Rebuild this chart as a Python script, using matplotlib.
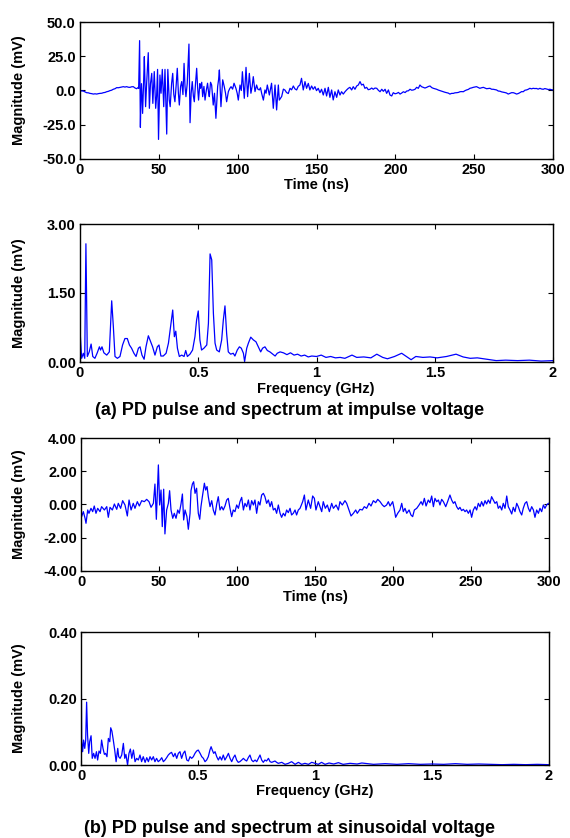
import matplotlib
matplotlib.use("Agg")
import matplotlib.pyplot as plt
import numpy as np

plt.rcParams['font.family'] = ['Liberation Sans', 'DejaVu Sans']
plt.rcParams['font.weight'] = 'bold'
plt.rcParams['axes.unicode_minus'] = False

# ---------------- (a) impulse voltage: time-domain pulse ----------------
t_a = [0.0, 1.0, 2.1, 3.2, 4.2, 5.3, 6.3, 7.4, 8.5, 9.5, 10.6, 11.6, 12.7, 13.8, 14.8, 15.9,
       16.9, 18.0, 19.0, 20.0, 21.1, 22.2, 23.3, 24.3, 25.4, 26.4, 27.5, 28.5, 29.6, 30.6,
       31.7, 32.7, 33.8, 34.8, 35.9, 37.0,
       37.2, 37.8, 38.3, 38.6, 39.0, 39.7, 40.4, 40.8, 41.6, 42.3, 43.3, 44.0, 44.7, 45.5, 46.2,
       47.1, 48.0, 48.6, 49.2, 49.8, 50.7, 51.4, 52.2, 53.1, 53.9, 55.0, 55.7, 56.6, 57.2,
       58.1, 58.8, 59.5, 60.2, 61.0, 61.7, 62.4, 63.0, 63.8, 64.5, 65.3, 66.0, 66.6, 67.2,
       68.0, 68.6, 69.1, 69.8, 70.5, 71.2, 71.9, 72.5, 73.2, 74.0, 74.6, 75.2, 76.0, 76.5,
       77.2, 77.8, 78.6, 79.3, 80.1, 80.9, 81.5, 82.0, 82.8, 83.5, 84.5, 85.3, 86.2, 87.3,
       87.9, 88.4, 89.4, 90.5, 91.5, 92.3, 93.0, 94.1, 95.0, 95.8, 96.8, 97.7, 98.9, 99.7,
       100.4, 101.5, 102.3, 103.0, 104.2, 105.3, 106.3, 107.4, 108.4, 109.2, 109.9, 111.0,
       112.0, 112.8, 113.7, 114.5, 115.2, 116.3, 117.3, 118.0, 118.8, 120.1, 121.5, 122.6,
       123.7, 124.7, 125.8, 126.4, 127.9, 129.0, 130.0, 131.0, 132.1, 133.2, 134.2, 135.3,
       136.3, 137.4, 138.4, 139.5, 140.5, 141.6, 142.7, 143.7, 144.8, 145.8, 146.9, 147.9,
       149.0, 150.0, 151.1, 152.2, 153.2, 154.3, 155.4, 156.4, 157.5, 158.5, 159.6, 160.6,
       161.7, 162.8, 163.8, 164.9, 165.9, 167.0, 168.0, 169.1, 170.2, 171.2, 172.3, 173.3,
       174.4, 175.5, 176.5, 177.6, 178.6, 179.7, 180.7, 181.8, 182.8, 183.9, 185.0, 186.0,
       187.1, 188.2, 189.2, 190.3, 191.4, 192.4, 193.5, 194.5, 195.6, 196.6, 197.7, 198.7,
       199.8, 200.9, 202.0, 203.0, 204.1, 205.1, 206.2, 207.2, 208.3, 209.3, 210.4, 211.4,
       212.5, 213.5, 214.6, 215.6, 216.6, 217.7, 218.8, 219.9, 220.9, 222.0, 223.1, 224.1,
       225.2, 226.2, 227.3, 228.3, 229.4, 230.4, 231.5, 232.5, 233.6, 234.6, 235.7, 236.8,
       237.8, 238.9, 240.0, 241.0, 242.1, 243.1, 244.2, 245.2, 246.3, 247.3, 248.4, 249.4,
       250.5, 251.5, 252.6, 253.6, 254.7, 255.8, 256.8, 257.9, 259.0, 260.0, 261.1, 262.1,
       263.2, 264.2, 265.3, 266.3, 267.4, 268.4, 269.5, 270.5, 271.6, 272.7, 273.7, 274.8,
       275.8, 276.9, 278.0, 279.0, 280.1, 281.1, 282.2, 283.2, 284.3, 285.3, 286.4, 287.4,
       288.5, 289.5, 290.6, 291.7, 292.7, 293.8, 294.8, 295.9, 297.0, 298.0, 299.0, 300.0]
v_a = [-0.1, -0.3, -0.4, -1.0, -1.6, -1.7, -2.1, -2.3, -2.6, -2.4, -2.6, -2.3, -2.1, -2.0, -1.6, -1.4,
       -0.9, -0.6, -0.1, 0.2, 0.9, 1.3, 2.1, 2.0, 2.3, 2.6, 2.8, 2.5, 2.8, 2.4,
       2.3, 2.7, 2.8, 1.9, 1.3, 2.3,
       1.5, 36.4, -26.9, -8.0, 5.0, -16.7, 8.0, 24.7, -11.8, 6.0, 27.6, -13.0, 5.0, 12.5, -9.4,
       13.8, -13.0, -4.0, 15.4, -35.7, 11.3, -2.0, 15.4, -11.8, 15.4, -31.8, 15.4, -7.0, -11.8,
       5.2, 12.5, -3.0, -8.2, 4.0, 16.2, -2.0, -10.6, 3.0, 6.5, -3.0, 19.8, 3.0, -4.5,
       5.0, 20.0, 33.9, -23.5, -2.0, 6.5, -4.0, -8.2, 4.0, 16.2, 2.0, -7.0, 5.0, 1.6,
       6.0, -4.5, 3.0, -7.0, 0.0, 5.3, -1.0, -4.5, 6.0, 4.0, -10.6, -2.0, -20.3, 2.8,
       8.0, 15.0, -11.8, 7.8, 2.8, -2.0, -8.2, -0.8, 1.5, 2.8, 1.0, 5.3, 1.6, -2.0,
       -7.0, 4.0, 0.0, 13.7, -5.7, 16.9, -4.5, 12.5, -2.0, 3.0, 10.1, -0.8,
       4.0, 1.0, 0.4, 2.0, -2.0, -7.0, 0.4, -2.0, 4.0, -3.3, 5.3, -13.0,
       4.0, -14.2, 4.0, -7.0, -4.4, 1.0, 0.3, -1.5, -2.2, 1.6, 0.5, 3.3,
       1.2, 0.4, 3.0, 4.0, 8.9, 0.4, 6.5, 1.6, 5.2, 0.4, 3.3, 0.9,
       2.8, -0.1, 1.6, -1.6, 0.9, -3.3, 1.6, -4.0, 2.3, -5.0, 0.4, -6.9,
       -0.9, -5.0, 0.4, -3.3, -0.9, -2.6, -1.0, 0.4, 1.6, 2.3, 0.4, 2.8,
       0.9, 3.3, 4.0, 6.5, 4.0, 4.6, 1.6, 2.3, 0.6, 0.9, 1.8, 0.9,
       1.8, 1.6, 0.2, -0.9, 0.9, -0.6, 0.9, -2.1, 0.4, -3.3, -4.0, -1.6,
       -2.4, -2.1, -1.4, -2.6, -1.8, -0.9, -1.5, -0.4, -0.2, 0.9, 0.2, 0.4,
       0.9, 2.3, 1.6, 4.0, 2.8, 2.3, 1.8, 2.3, 2.9, 3.3, 2.1, 1.6,
       1.2, 0.9, 0.3, -0.1, -0.6, -0.9, -1.3, -1.6, -1.9, -2.6, -2.1, -2.1,
       -1.7, -1.6, -1.4, -0.9, -0.8, -0.9, -0.1, 0.4, 0.8, 1.6, 1.9, 2.3,
       2.6, 2.8, 2.2, 1.6, 2.0, 2.3, 1.8, 1.3, 1.5, 1.6, 0.9, 0.9,
       0.6, 0.4, -0.4, -0.5, -1.0, -1.2, -1.5, -1.8, -2.6, -2.1, -1.6, -1.6,
       -2.0, -2.6, -2.2, -1.6, -0.8, -0.9, 0.2, 0.4, 0.9, 1.6, 1.2, 1.6,
       1.4, 1.5, 1.0, 1.6, 1.1, 0.9, 1.4, 1.1, 0.7, 0.9, 0.6, 0.4]

# ---------------- (a) impulse voltage: spectrum ----------------
f_a = [0.000, 0.007, 0.014, 0.020, 0.025, 0.031, 0.039, 0.047, 0.054, 0.063, 0.073, 0.082,
       0.087, 0.093, 0.101, 0.113, 0.124, 0.134, 0.141, 0.148, 0.158, 0.169, 0.180, 0.190,
       0.200, 0.209, 0.218, 0.228, 0.237, 0.247, 0.254, 0.262, 0.271, 0.279, 0.289, 0.299,
       0.307, 0.317, 0.327, 0.334, 0.342, 0.352, 0.364, 0.374, 0.383, 0.392, 0.399, 0.405,
       0.412, 0.420, 0.430, 0.440, 0.447, 0.454, 0.465, 0.476, 0.486, 0.493, 0.500, 0.507,
       0.514, 0.524, 0.536, 0.543, 0.550, 0.557, 0.564, 0.571, 0.578, 0.589, 0.599, 0.606,
       0.613, 0.620, 0.627, 0.637, 0.648, 0.655, 0.665, 0.674, 0.682, 0.691, 0.696, 0.705,
       0.712, 0.722, 0.733, 0.744, 0.754, 0.764, 0.772, 0.782, 0.792, 0.803, 0.815, 0.825,
       0.834, 0.846, 0.860, 0.875, 0.890, 0.905, 0.920, 0.935, 0.950, 0.965, 0.980, 1.000,
       1.020, 1.040, 1.060, 1.080, 1.100, 1.120, 1.150, 1.170, 1.200, 1.230, 1.255, 1.280,
       1.300, 1.330, 1.360, 1.380, 1.400, 1.420, 1.450, 1.480, 1.510, 1.550, 1.590, 1.620,
       1.650, 1.680, 1.720, 1.760, 1.800, 1.850, 1.900, 1.950, 2.000]
m_a = [0.70, 0.08, 0.19, 0.08, 2.57, 0.12, 0.22, 0.39, 0.12, 0.08, 0.20, 0.33,
       0.26, 0.33, 0.20, 0.15, 0.22, 1.33, 0.77, 0.12, 0.08, 0.12, 0.37, 0.51,
       0.51, 0.37, 0.30, 0.19, 0.12, 0.30, 0.33, 0.15, 0.06, 0.33, 0.57, 0.44,
       0.33, 0.15, 0.33, 0.37, 0.13, 0.13, 0.19, 0.41, 0.77, 1.13, 0.55, 0.67,
       0.30, 0.12, 0.15, 0.12, 0.25, 0.12, 0.17, 0.26, 0.55, 0.91, 1.11, 0.48,
       0.26, 0.30, 0.37, 0.84, 2.35, 2.22, 1.06, 0.41, 0.26, 0.22, 0.48, 0.91,
       1.22, 0.62, 0.22, 0.17, 0.19, 0.13, 0.26, 0.33, 0.30, 0.19, 0.01, 0.30,
       0.41, 0.54, 0.48, 0.44, 0.33, 0.22, 0.30, 0.33, 0.25, 0.22, 0.17, 0.13,
       0.19, 0.22, 0.20, 0.16, 0.20, 0.15, 0.17, 0.13, 0.15, 0.11, 0.13, 0.12,
       0.15, 0.10, 0.12, 0.09, 0.10, 0.08, 0.15, 0.10, 0.11, 0.09, 0.17, 0.10,
       0.07, 0.12, 0.19, 0.12, 0.05, 0.12, 0.10, 0.11, 0.09, 0.12, 0.17, 0.11,
       0.08, 0.09, 0.06, 0.03, 0.04, 0.03, 0.04, 0.02, 0.03]

# ---------------- (b) sinusoidal voltage: time-domain pulse ----------------
t_b = [0.0, 0.4, 1.5, 2.6, 3.2, 4.3, 5.1, 6.4, 7.5, 8.5, 9.6, 10.7, 12.2, 13.2, 15.0, 16.5,
       17.5, 18.6, 20.1, 21.4, 22.9, 23.9, 25.4, 26.7, 28.2, 29.7, 30.8, 32.1, 33.5, 34.6,
       36.1, 37.4, 38.9, 40.6, 42.1, 43.6, 44.9, 46.4, 47.4, 48.3, 49.6, 50.4, 51.3, 52.1,
       53.0, 53.8, 54.9, 56.0, 56.8, 57.7, 58.8, 59.8, 60.9, 62.0, 63.0, 64.1, 65.0, 65.8,
       66.7, 67.9, 68.8, 69.9, 70.5, 71.4, 72.2, 73.1, 74.1, 75.2, 76.1, 76.9, 77.8, 79.1,
       79.9, 80.8, 81.6, 82.7, 83.8, 84.8, 85.9, 87.0, 88.0, 89.1, 90.2, 91.2, 92.3, 93.4,
       94.4, 95.5, 96.6, 97.6, 98.7, 99.8, 100.9, 101.9, 103.0, 104.1, 105.1, 106.2, 107.3,
       108.3, 109.4, 110.5, 111.5, 112.6, 113.7, 114.7, 115.8, 116.9, 117.9, 119.0, 120.1,
       121.2, 122.2, 123.3, 124.4, 125.4, 126.5, 127.6, 128.6, 129.7, 130.8, 131.8, 132.9,
       134.0, 135.0, 136.1, 137.2, 138.2, 139.3,
       140.4, 142.1, 143.2, 144.2, 145.7, 147.2, 148.5, 149.6, 150.6, 152.1, 153.2, 154.3,
       155.3, 156.6, 157.9, 159.2, 160.7, 161.8, 163.5, 165.0, 166.0, 167.5, 169.2, 170.3,
       171.8, 173.1, 174.6, 176.1, 177.1, 178.8, 180.3, 181.6, 183.1, 184.6, 185.9, 187.4,
       188.9, 190.2, 191.7, 193.2, 194.4, 195.9, 197.0, 198.1, 199.8, 200.9, 201.7, 203.0,
       204.5, 205.6, 206.6, 207.7, 208.8, 210.3, 211.5, 212.6, 213.7, 215.2, 216.7, 218.0,
       219.0, 220.1, 221.2, 222.6, 223.7, 224.8, 225.9, 226.9, 228.0, 229.1, 230.1, 231.2,
       232.3, 233.8, 235.0, 236.5, 237.6, 238.7, 239.7, 240.8, 241.9, 242.9, 244.0, 245.1,
       246.2, 247.2, 248.3, 249.4, 250.4, 251.5, 252.6, 253.6, 254.7, 255.8, 256.8, 257.9,
       259.0, 260.0, 261.1, 262.2, 263.2, 264.3, 265.4, 266.5, 267.5, 268.6, 269.7, 270.7,
       271.8, 272.9, 273.9, 275.0, 276.1, 277.1, 278.2, 279.3, 280.3, 281.4, 282.5, 283.5,
       284.6, 285.7, 286.8, 287.8, 288.9, 290.0, 291.0, 292.1, 293.2, 294.2, 295.3, 296.4,
       297.4, 298.5, 299.6]
v_b = [-0.33, -0.73, -0.43, -0.83, -1.13, -0.33, -0.53, -0.23, -0.43, -0.09, -0.53, -0.23,
       -0.43, -0.13, -0.33, -0.13, -0.77, -0.17, -0.33, 0.03, -0.29, 0.07, -0.23, 0.23,
       -0.03, -0.69, 0.27, -0.33, 0.07, -0.23, 0.17, -0.09, 0.23, 0.17, 0.31, 0.17,
       -0.17, 0.07, 1.23, -0.89, 2.38, -0.03, 0.87, -1.33, 0.92, -1.77, -0.33, 0.07,
       0.83, -0.33, -0.83, -0.53, -0.83, -0.33, -0.53, 0.03, 0.63, -0.93, -0.33, -0.73,
       -1.49, -0.53, 0.83, 1.23, 1.37, 0.67, 0.98, -0.53, -0.89, -0.13, 0.47, 1.28,
       0.87, 1.08, 0.47, -0.13, 0.23, -0.33, -0.63, 0.03, 0.47, -0.33, -0.13, -0.33,
       -0.09, 0.27, 0.37, -0.23, -0.73, -0.33, -0.43, -0.03, -0.23, 0.17, 0.43, -0.33,
       0.07, -0.13, 0.27, -0.33, 0.23, -0.03, 0.27, -0.53, 0.17, -0.03, 0.57, 0.67,
       0.47, 0.07, 0.27, -0.13, 0.17, -0.33, -0.23, -0.53, -0.03, -0.53, -0.77, -0.53,
       -0.69, -0.33, -0.49, -0.23, -0.63, -0.53, -0.33, -0.63, -0.33,
       -0.23, 0.17, 0.57, -0.33, 0.27, -0.23, 0.51, 0.37, -0.33, 0.17, -0.13, -0.43,
       0.17, -0.23, -0.03, -0.43, 0.07, -0.23, -0.03, -0.33, 0.17, -0.03, 0.23, 0.07,
       -0.33, -0.69, -0.53, -0.33, -0.53, -0.29, -0.33, -0.13, -0.23, 0.07, -0.09, 0.23,
       0.11, 0.31, 0.17, -0.03, -0.13, -0.03, 0.17, -0.09, 0.17, -0.33, -0.77, -0.53,
       -0.33, 0.07, -0.43, -0.23, -0.53, -0.33, -0.63, -0.73, -0.33, -0.23, -0.03, 0.17,
       -0.03, 0.37, -0.09, 0.27, 0.11, 0.51, -0.13, 0.37, 0.17, 0.27, -0.03, 0.31,
       0.17, -0.13, 0.17, 0.57, 0.27, 0.07, 0.17, -0.13, -0.29, -0.17, -0.37, -0.29,
       -0.43, -0.33, -0.53, -0.33, -0.77, -0.33, -0.13, -0.33, 0.07, -0.13, 0.17, -0.09,
       0.23, 0.03, 0.27, 0.07, 0.47, 0.27, 0.07, 0.17, -0.23, -0.09, -0.33, 0.07,
       -0.23, 0.51, -0.13, -0.33, -0.57, -0.17, -0.43, 0.07, -0.13, -0.43, -0.63, -0.23,
       0.07, 0.17, -0.23, -0.43, -0.13, -0.33, -0.77, -0.33, -0.53, -0.23, -0.43, -0.03,
       -0.23, -0.03, 0.07]

# ---------------- (b) sinusoidal voltage: spectrum ----------------
f_b = [0.000, 0.003, 0.007, 0.011, 0.016, 0.020, 0.024, 0.028, 0.033, 0.037, 0.043, 0.048,
       0.054, 0.060, 0.066, 0.071, 0.077, 0.083, 0.088, 0.094, 0.100, 0.105, 0.111, 0.117,
       0.123, 0.127, 0.132, 0.138, 0.144, 0.150, 0.157, 0.161, 0.167, 0.174, 0.181, 0.187,
       0.192, 0.199, 0.205, 0.211, 0.217, 0.224, 0.231, 0.238, 0.245, 0.252, 0.259, 0.266,
       0.274, 0.281, 0.288, 0.295, 0.302, 0.309, 0.316, 0.323, 0.330, 0.338, 0.345, 0.352,
       0.359, 0.366, 0.373, 0.380, 0.387, 0.395, 0.402, 0.409, 0.416, 0.423, 0.430, 0.437,
       0.444, 0.452, 0.459, 0.466, 0.473, 0.480, 0.487, 0.494, 0.501, 0.509, 0.516, 0.523,
       0.530, 0.537, 0.544, 0.551, 0.556, 0.561, 0.567, 0.573, 0.580, 0.587, 0.594, 0.601,
       0.608, 0.615, 0.623, 0.630, 0.637, 0.644, 0.651, 0.658, 0.665, 0.672, 0.679, 0.687,
       0.694, 0.701, 0.708, 0.715, 0.722, 0.729, 0.736, 0.744, 0.751, 0.758, 0.765, 0.772,
       0.779, 0.786, 0.793, 0.801, 0.808, 0.815, 0.822, 0.829, 0.836, 0.843, 0.858, 0.872,
       0.886, 0.900, 0.915, 0.929, 0.943, 0.957, 0.972, 0.986, 1.000, 1.014, 1.028, 1.043,
       1.060, 1.080, 1.100, 1.120, 1.150, 1.180, 1.200, 1.250, 1.300, 1.350, 1.400, 1.450,
       1.500, 1.550, 1.600, 1.650, 1.700, 1.750, 1.800, 1.850, 1.900, 1.950, 2.000]
m_b = [0.400, 0.070, 0.040, 0.075, 0.050, 0.075, 0.189, 0.090, 0.035, 0.070, 0.088, 0.020,
       0.035, 0.020, 0.040, 0.015, 0.042, 0.035, 0.075, 0.050, 0.032, 0.035, 0.025, 0.080,
       0.070, 0.112, 0.102, 0.075, 0.045, 0.010, 0.050, 0.025, 0.020, 0.030, 0.065, 0.020,
       0.032, 0.000, 0.035, 0.048, 0.020, 0.045, 0.010, 0.020, 0.015, 0.030, 0.010, 0.025,
       0.008, 0.022, 0.010, 0.025, 0.015, 0.025, 0.010, 0.020, 0.010, 0.015, 0.022, 0.010,
       0.015, 0.022, 0.030, 0.035, 0.038, 0.025, 0.035, 0.020, 0.035, 0.040, 0.020, 0.035,
       0.042, 0.015, 0.012, 0.025, 0.020, 0.025, 0.035, 0.042, 0.045, 0.035, 0.025, 0.020,
       0.010, 0.015, 0.025, 0.045, 0.055, 0.045, 0.035, 0.040, 0.025, 0.015, 0.025, 0.015,
       0.030, 0.015, 0.025, 0.035, 0.020, 0.010, 0.022, 0.030, 0.015, 0.008, 0.010, 0.015,
       0.020, 0.015, 0.012, 0.022, 0.030, 0.015, 0.010, 0.015, 0.010, 0.020, 0.030, 0.015,
       0.008, 0.015, 0.012, 0.020, 0.010, 0.008, 0.010, 0.012, 0.008, 0.005, 0.008, 0.002,
       0.005, 0.010, 0.002, 0.008, 0.002, 0.005, 0.002, 0.008, 0.005, 0.002, 0.008, 0.002,
       0.006, 0.003, 0.007, 0.002, 0.005, 0.003, 0.006, 0.002, 0.004, 0.002, 0.004, 0.002,
       0.003, 0.002, 0.004, 0.002, 0.003, 0.002, 0.001, 0.002, 0.001, 0.002, 0.001]

# tick labels
time_ticks = [0, 50, 100, 150, 200, 250, 300]
time_ticklabels = ['0', '50', '100', '150', '200', '250', '300']
freq_ticks = [0, 0.5, 1, 1.5, 2]
freq_ticklabels = ['0', '0.5', '1', '1.5', '2']
ya_time = [-50, -25, 0, 25, 50]
ya_time_lbl = ['-50.0', '-25.0', '0.0', '25.0', '50.0']
ya_spec = [0, 1.5, 3]
ya_spec_lbl = ['0.00', '1.50', '3.00']
yb_time = [-4, -2, 0, 2, 4]
yb_time_lbl = ['-4.00', '-2.00', '0.00', '2.00', '4.00']
yb_spec = [0, 0.2, 0.4]
yb_spec_lbl = ['0.00', '0.20', '0.40']

W, H = 570, 838
fig = plt.figure(figsize=(W / 100, H / 100), dpi=100)


def add_axes(l, r, t, b):
    return fig.add_axes([l / W, 1 - b / H, (r - l) / W, (b - t) / H])


def style(ax, xt, xtl, yt, ytl, xlim, ylim):
    ax.set_xlim(*xlim)
    ax.set_ylim(*ylim)
    ax.set_xticks(xt)
    ax.set_xticklabels(xtl)
    ax.set_yticks(yt)
    ax.set_yticklabels(ytl)
    ax.tick_params(direction='in', length=3.5, width=0.8, top=True, right=True,
                   labelsize=10.5, pad=3, colors='black')
    for lab in ax.get_xticklabels() + ax.get_yticklabels():
        lab.set_fontweight('bold')
    for s in ax.spines.values():
        s.set_linewidth(1.0)
        s.set_color('black')


blue = '#0000ff'
lw = 0.9

ax1 = add_axes(80, 553, 22, 159)
ax1.plot(t_a, v_a, color=blue, lw=lw)
style(ax1, time_ticks, time_ticklabels, ya_time, ya_time_lbl, (0, 300), (-50, 50))

ax2 = add_axes(80, 553, 224, 362)
ax2.plot(f_a, m_a, color=blue, lw=lw)
style(ax2, freq_ticks, freq_ticklabels, ya_spec, ya_spec_lbl, (0, 2), (0, 3))

ax3 = add_axes(81, 549, 438, 571)
ax3.plot(t_b, v_b, color=blue, lw=lw)
style(ax3, time_ticks, time_ticklabels, yb_time, yb_time_lbl, (0, 300), (-4, 4))

ax4 = add_axes(81, 549, 632, 765)
ax4.plot(f_b, m_b, color=blue, lw=lw)
style(ax4, freq_ticks, freq_ticklabels, yb_spec, yb_spec_lbl, (0, 2), (0, 0.4))


def ftext(x, y, s, **kw):
    fig.text(x / W, 1 - y / H, s, fontweight='bold', **kw)


ylab = 'Magnitude (mV)'
ftext(19, 90, ylab, rotation=90, ha='center', va='center', fontsize=10.5)
ftext(19, 293, ylab, rotation=90, ha='center', va='center', fontsize=10.5)
ftext(19, 504, ylab, rotation=90, ha='center', va='center', fontsize=10.5)
ftext(19, 698, ylab, rotation=90, ha='center', va='center', fontsize=10.5)

ftext(316, 185, 'Time (ns)', ha='center', va='center', fontsize=10.5)
ftext(316, 389, 'Frequency (GHz)', ha='center', va='center', fontsize=10.5)
ftext(315, 597, 'Time (ns)', ha='center', va='center', fontsize=10.5)
ftext(315, 791, 'Frequency (GHz)', ha='center', va='center', fontsize=10.5)

ftext(290, 410, '(a) PD pulse and spectrum at impulse voltage', ha='center', va='center', fontsize=13)
ftext(289, 828, '(b) PD pulse and spectrum at sinusoidal voltage', ha='center', va='center', fontsize=13)

fig.savefig('out.png', dpi=100)
